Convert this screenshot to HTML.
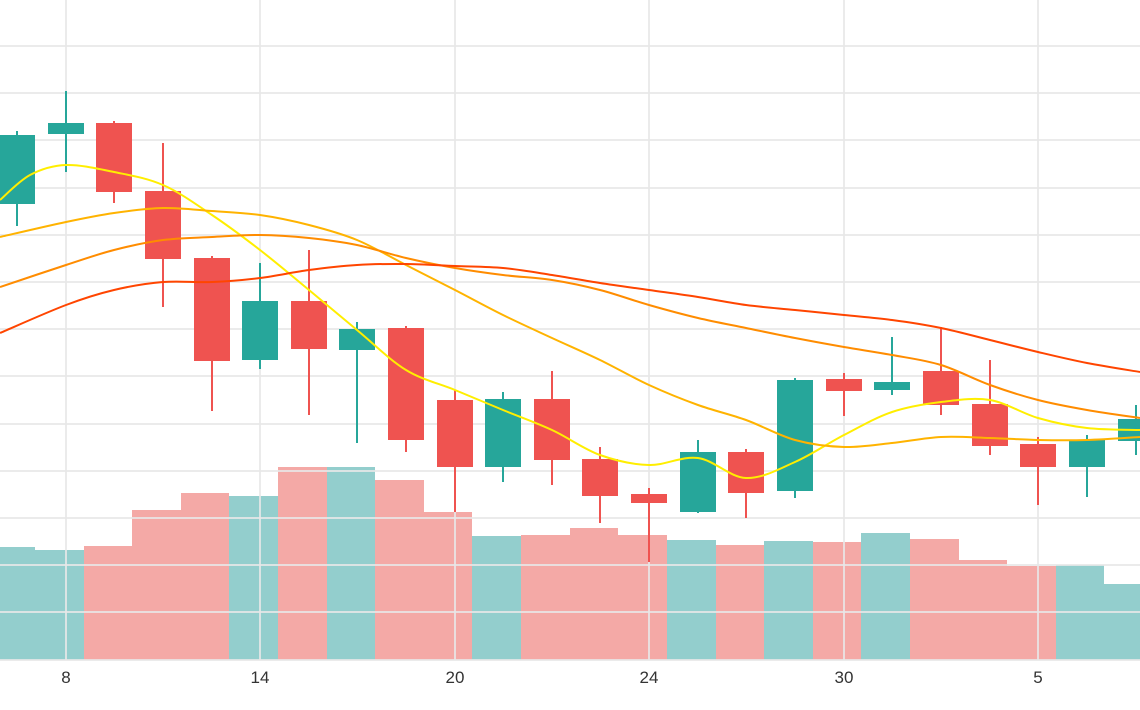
<!DOCTYPE html>
<html><head><meta charset="utf-8"><style>html,body{margin:0;padding:0;background:#fff}svg{display:block}</style></head><body>
<svg width="1140" height="710" xmlns="http://www.w3.org/2000/svg">
<g id="vol">
<rect x="0" y="547" width="35" height="113" fill="#93cecd"/>
<rect x="35" y="550" width="49" height="110" fill="#93cecd"/>
<rect x="84" y="546" width="48" height="114" fill="#f4a9a6"/>
<rect x="132" y="510" width="49" height="150" fill="#f4a9a6"/>
<rect x="181" y="493" width="48" height="167" fill="#f4a9a6"/>
<rect x="229" y="496" width="49" height="164" fill="#93cecd"/>
<rect x="278" y="467" width="49" height="193" fill="#f4a9a6"/>
<rect x="327" y="467" width="48" height="193" fill="#93cecd"/>
<rect x="375" y="480" width="49" height="180" fill="#f4a9a6"/>
<rect x="424" y="512" width="48" height="148" fill="#f4a9a6"/>
<rect x="472" y="536" width="49" height="124" fill="#93cecd"/>
<rect x="521" y="535" width="49" height="125" fill="#f4a9a6"/>
<rect x="570" y="528" width="48" height="132" fill="#f4a9a6"/>
<rect x="618" y="535" width="49" height="125" fill="#f4a9a6"/>
<rect x="667" y="540" width="49" height="120" fill="#93cecd"/>
<rect x="716" y="545" width="48" height="115" fill="#f4a9a6"/>
<rect x="764" y="541" width="49" height="119" fill="#93cecd"/>
<rect x="813" y="542" width="48" height="118" fill="#f4a9a6"/>
<rect x="861" y="533" width="49" height="127" fill="#93cecd"/>
<rect x="910" y="539" width="49" height="121" fill="#f4a9a6"/>
<rect x="959" y="560" width="48" height="100" fill="#f4a9a6"/>
<rect x="1007" y="566" width="49" height="94" fill="#f4a9a6"/>
<rect x="1056" y="565" width="48" height="95" fill="#93cecd"/>
<rect x="1104" y="584" width="36" height="76" fill="#93cecd"/>
</g>
<g stroke="#e8e8e8" stroke-opacity="0.85" stroke-width="2">
<line x1="0" x2="1140" y1="46" y2="46"/><line x1="0" x2="1140" y1="93" y2="93"/><line x1="0" x2="1140" y1="140" y2="140"/><line x1="0" x2="1140" y1="188" y2="188"/><line x1="0" x2="1140" y1="235" y2="235"/><line x1="0" x2="1140" y1="282" y2="282"/><line x1="0" x2="1140" y1="329" y2="329"/><line x1="0" x2="1140" y1="376" y2="376"/><line x1="0" x2="1140" y1="424" y2="424"/><line x1="0" x2="1140" y1="471" y2="471"/><line x1="0" x2="1140" y1="518" y2="518"/><line x1="0" x2="1140" y1="565" y2="565"/><line x1="0" x2="1140" y1="612" y2="612"/><line x1="0" x2="1140" y1="660" y2="660"/>
<line x1="66" x2="66" y1="0" y2="660"/><line x1="260" x2="260" y1="0" y2="660"/><line x1="455" x2="455" y1="0" y2="660"/><line x1="649" x2="649" y1="0" y2="660"/><line x1="844" x2="844" y1="0" y2="660"/><line x1="1038" x2="1038" y1="0" y2="660"/>
</g>
<g font-family="Liberation Sans, sans-serif" font-size="17" fill="#333" text-anchor="middle">
<text x="66" y="683">8</text><text x="260" y="683">14</text><text x="455" y="683">20</text><text x="649" y="683">24</text><text x="844" y="683">30</text><text x="1038" y="683">5</text>
</g>
<g id="candles" stroke-width="2">
<g stroke="#26a69a" fill="#26a69a"><line x1="17" x2="17" y1="131" y2="226"/><rect x="0" y="136" width="34" height="67"/></g>
<g stroke="#26a69a" fill="#26a69a"><line x1="66" x2="66" y1="91" y2="172"/><rect x="49" y="124" width="34" height="9"/></g>
<g stroke="#ef5350" fill="#ef5350"><line x1="114" x2="114" y1="121" y2="203"/><rect x="97" y="124" width="34" height="67"/></g>
<g stroke="#ef5350" fill="#ef5350"><line x1="163" x2="163" y1="143" y2="307"/><rect x="146" y="192" width="34" height="66"/></g>
<g stroke="#ef5350" fill="#ef5350"><line x1="212" x2="212" y1="256" y2="411"/><rect x="195" y="259" width="34" height="101"/></g>
<g stroke="#26a69a" fill="#26a69a"><line x1="260" x2="260" y1="263" y2="369"/><rect x="243" y="302" width="34" height="57"/></g>
<g stroke="#ef5350" fill="#ef5350"><line x1="309" x2="309" y1="250" y2="415"/><rect x="292" y="302" width="34" height="46"/></g>
<g stroke="#26a69a" fill="#26a69a"><line x1="357" x2="357" y1="322" y2="443"/><rect x="340" y="330" width="34" height="19"/></g>
<g stroke="#ef5350" fill="#ef5350"><line x1="406" x2="406" y1="326" y2="452"/><rect x="389" y="329" width="34" height="110"/></g>
<g stroke="#ef5350" fill="#ef5350"><line x1="455" x2="455" y1="390" y2="512"/><rect x="438" y="401" width="34" height="65"/></g>
<g stroke="#26a69a" fill="#26a69a"><line x1="503" x2="503" y1="392" y2="482"/><rect x="486" y="400" width="34" height="66"/></g>
<g stroke="#ef5350" fill="#ef5350"><line x1="552" x2="552" y1="371" y2="485"/><rect x="535" y="400" width="34" height="59"/></g>
<g stroke="#ef5350" fill="#ef5350"><line x1="600" x2="600" y1="447" y2="523"/><rect x="583" y="460" width="34" height="35"/></g>
<g stroke="#ef5350" fill="#ef5350"><line x1="649" x2="649" y1="488" y2="562"/><rect x="632" y="495" width="34" height="7"/></g>
<g stroke="#26a69a" fill="#26a69a"><line x1="698" x2="698" y1="440" y2="513"/><rect x="681" y="453" width="34" height="58"/></g>
<g stroke="#ef5350" fill="#ef5350"><line x1="746" x2="746" y1="449" y2="518"/><rect x="729" y="453" width="34" height="39"/></g>
<g stroke="#26a69a" fill="#26a69a"><line x1="795" x2="795" y1="378" y2="498"/><rect x="778" y="381" width="34" height="109"/></g>
<g stroke="#ef5350" fill="#ef5350"><line x1="844" x2="844" y1="373" y2="416"/><rect x="827" y="380" width="34" height="10"/></g>
<g stroke="#26a69a" fill="#26a69a"><line x1="892" x2="892" y1="337" y2="395"/><rect x="875" y="383" width="34" height="6"/></g>
<g stroke="#ef5350" fill="#ef5350"><line x1="941" x2="941" y1="327" y2="415"/><rect x="924" y="372" width="34" height="32"/></g>
<g stroke="#ef5350" fill="#ef5350"><line x1="990" x2="990" y1="360" y2="455"/><rect x="973" y="405" width="34" height="40"/></g>
<g stroke="#ef5350" fill="#ef5350"><line x1="1038" x2="1038" y1="437" y2="505"/><rect x="1021" y="445" width="34" height="21"/></g>
<g stroke="#26a69a" fill="#26a69a"><line x1="1087" x2="1087" y1="435" y2="497"/><rect x="1070" y="441" width="34" height="25"/></g>
<g stroke="#26a69a" fill="#26a69a"><line x1="1136" x2="1136" y1="405" y2="455"/><rect x="1119" y="420" width="34" height="20"/></g>
</g>
<g id="ma" fill="none" stroke-width="2" stroke-linejoin="round">
<polyline stroke="#ffee00" points="0,200 30,175 66,165 114,172 163,185 212,215 260,250 309,290 357,330 406,370 455,390 503,410 552,430 600,455 649,465 698,458 746,478 795,462 844,435 892,412 941,402 990,400 1038,418 1087,428 1140,430"/>
<polyline stroke="#ffb300" points="0,237 66,222 114,213 163,208 212,211 260,215 309,225 357,240 406,265 455,290 503,315 552,338 600,360 649,385 698,405 746,420 795,440 844,447 892,443 941,437 990,438 1038,440 1087,440 1140,437"/>
<polyline stroke="#ff8c00" points="0,287 66,265 114,250 163,240 212,237 260,235 309,238 357,245 406,258 455,268 503,275 552,280 600,290 649,305 698,318 746,328 795,338 844,347 892,355 941,365 990,385 1038,400 1087,410 1140,418"/>
<polyline stroke="#ff4500" points="0,333 66,305 114,290 163,282 212,282 260,278 309,270 357,265 406,264 455,266 503,268 552,275 600,283 649,290 698,297 746,305 795,310 844,315 892,320 941,328 990,340 1038,352 1087,363 1140,372"/>
</g>
</svg>
<script>
document.querySelectorAll('#ma polyline').forEach(function(pl){
  var p=pl.getAttribute('points').trim().split(/\s+/).map(function(s){return s.split(',').map(Number);});
  var d='M'+p[0][0]+','+p[0][1];
  for(var i=0;i<p.length-1;i++){
    var p0=p[i-1]||p[i],p1=p[i],p2=p[i+1],p3=p[i+2]||p2;
    var c1x=p1[0]+(p2[0]-p0[0])/6,c1y=p1[1]+(p2[1]-p0[1])/6;
    var c2x=p2[0]-(p3[0]-p1[0])/6,c2y=p2[1]-(p3[1]-p1[1])/6;
    d+=' C'+c1x+','+c1y+' '+c2x+','+c2y+' '+p2[0]+','+p2[1];
  }
  var path=document.createElementNS('http://www.w3.org/2000/svg','path');
  path.setAttribute('d',d);path.setAttribute('stroke',pl.getAttribute('stroke'));
  pl.parentNode.replaceChild(path,pl);
});
</script>
</body></html>
